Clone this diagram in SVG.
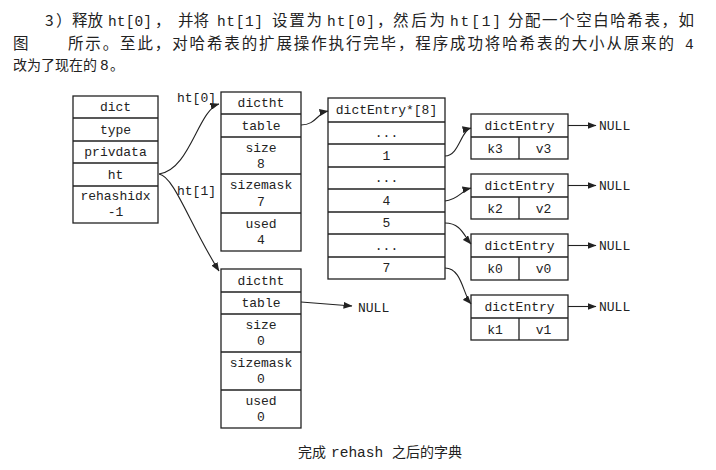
<svg xmlns="http://www.w3.org/2000/svg" width="716" height="470" viewBox="0 0 716 470">
<style>
.box{fill:#fff;stroke:#222;stroke-width:1.3}
.ln{stroke:#222;stroke-width:1.3;fill:none}
.m{font-family:"Liberation Mono","DejaVu Sans Mono",monospace;font-size:13px;fill:#222;text-anchor:middle}
.ml{font-family:"Liberation Mono","DejaVu Sans Mono",monospace;font-size:13px;fill:#222}
.c{font-family:"Noto Sans CJK SC","Noto Sans",sans-serif;font-size:15.5px;fill:#222}
.c3{font-family:"Noto Sans CJK SC","Noto Sans",sans-serif;font-size:14px;fill:#222}
.pm{font-family:"Liberation Mono","DejaVu Sans Mono",monospace;font-size:14.5px;fill:#222}
.con{stroke:#222;stroke-width:1.1;fill:none;marker-end:url(#ah)}
</style>
<defs>
<marker id="ah" markerWidth="9" markerHeight="7" refX="8.5" refY="3.5" orient="auto" markerUnits="userSpaceOnUse">
<path d="M0,0 L9,3.5 L0,7 Z" fill="#222"/>
</marker>
</defs>
<rect width="716" height="470" fill="#fff"/>
<g id="paragraph">
<text class="c" x="45" y="26">3</text>
<text class="c" x="56" y="26">）</text>
<text class="c" x="72" y="26">释放</text>
<text class="pm" x="108" y="26" textLength="44">ht[0]</text>
<text class="c" x="155" y="26">，</text>
<text class="c" x="178" y="26">并将</text>
<text class="pm" x="217" y="26" textLength="46">ht[1]</text>
<text class="c" x="272" y="26" textLength="50">设置为</text>
<text class="pm" x="327" y="26" textLength="48">ht[0]</text>
<text class="c" x="377" y="26">，</text>
<text class="c" x="393" y="26" textLength="52">然后为</text>
<text class="pm" x="450" y="26" textLength="51">ht[1]</text>
<text class="c" x="508" y="26" textLength="186">分配一个空白哈希表，如</text>
<text class="c" x="13" y="49">图</text>
<text class="c" x="68" y="49" textLength="606">所示。至此，对哈希表的扩展操作执行完毕，程序成功将哈希表的大小从原来的</text>
<text class="pm" x="685" y="49">4</text>
<text class="c3" x="13" y="70">改为了现在的</text>
<text class="pm" x="100" y="70">8</text>
<text class="c3" x="110" y="70">。</text>
</g>
<g id="dict">
<rect class="box" x="73" y="96" width="85" height="127"/>
<path class="ln" d="M73,118H158M73,141H158M73,163H158M73,186H158"/>
<text class="m" x="115.5" y="111">dict</text>
<text class="m" x="115.5" y="134">type</text>
<text class="m" x="115.5" y="156">privdata</text>
<text class="m" x="115.5" y="179">ht</text>
<text class="m" x="115.5" y="200">rehashidx</text>
<text class="m" x="115.5" y="216">-1</text>
</g>
<g id="dictht0">
<rect class="box" x="221" y="92" width="80" height="159"/>
<path class="ln" d="M221,114H301M221,137H301M221,174H301M221,213H301"/>
<text class="m" x="261" y="107">dictht</text>
<text class="m" x="261" y="130">table</text>
<text class="m" x="261" y="152">size</text>
<text class="m" x="261" y="168">8</text>
<text class="m" x="261" y="189">sizemask</text>
<text class="m" x="261" y="206">7</text>
<text class="m" x="261" y="228">used</text>
<text class="m" x="261" y="244">4</text>
</g>
<g id="dictht1">
<rect class="box" x="221" y="269" width="80" height="159"/>
<path class="ln" d="M221,292H301M221,314H301M221,352H301M221,390H301"/>
<text class="m" x="261" y="285">dictht</text>
<text class="m" x="261" y="307">table</text>
<text class="m" x="261" y="329">size</text>
<text class="m" x="261" y="345">0</text>
<text class="m" x="261" y="367">sizemask</text>
<text class="m" x="261" y="383">0</text>
<text class="m" x="261" y="405">used</text>
<text class="m" x="261" y="421">0</text>
</g>
<g id="table">
<rect class="box" x="328" y="98" width="117" height="181"/>
<path class="ln" d="M328,122H445M328,144H445M328,167H445M328,189H445M328,212H445M328,234H445M328,257H445"/>
<text class="m" x="386.5" y="114">dictEntry*[8]</text>
<text class="m" x="386.5" y="137">...</text>
<text class="m" x="386.5" y="160">1</text>
<text class="m" x="386.5" y="182">...</text>
<text class="m" x="386.5" y="205">4</text>
<text class="m" x="386.5" y="227">5</text>
<text class="m" x="386.5" y="250">...</text>
<text class="m" x="386.5" y="272">7</text>
</g>
<g id="entry3">
<rect class="box" x="471" y="114" width="97" height="45"/>
<path class="ln" d="M471,137H568M519,137V159"/>
<text class="m" x="519.5" y="130">dictEntry</text>
<text class="m" x="495" y="153">k3</text>
<text class="m" x="543.5" y="153">v3</text>
</g>
<g id="entry2">
<rect class="box" x="471" y="174" width="97" height="45"/>
<path class="ln" d="M471,197H568M519,197V219"/>
<text class="m" x="519.5" y="190">dictEntry</text>
<text class="m" x="495" y="213">k2</text>
<text class="m" x="543.5" y="213">v2</text>
</g>
<g id="entry0">
<rect class="box" x="471" y="234" width="97" height="46"/>
<path class="ln" d="M471,257H568M519,257V280"/>
<text class="m" x="519.5" y="250">dictEntry</text>
<text class="m" x="495" y="273">k0</text>
<text class="m" x="543.5" y="273">v0</text>
</g>
<g id="entry1">
<rect class="box" x="471" y="295" width="97" height="45"/>
<path class="ln" d="M471,318H568M519,318V340"/>
<text class="m" x="519.5" y="311">dictEntry</text>
<text class="m" x="495" y="334">k1</text>
<text class="m" x="543.5" y="334">v1</text>
</g>
<g id="nulls">
<text class="ml" x="599" y="130">NULL</text>
<text class="ml" x="599" y="190">NULL</text>
<text class="ml" x="599" y="250">NULL</text>
<text class="ml" x="599" y="311">NULL</text>
<text class="ml" x="358" y="312">NULL</text>
</g>
<g id="connectors">
<path class="con" d="M159,174 C190,170 198,110 219,104"/>
<path class="con" d="M159,174 C174,176 190,225 219,271"/>
<text class="ml" x="177" y="102">ht[0]</text>
<text class="ml" x="177" y="195">ht[1]</text>
<path class="con" d="M301,125 C316,125 317,113 328,111"/>
<path class="con" d="M301,302 L352,306"/>
<path class="con" d="M445,156 C459,156 461,130 471,128"/>
<path class="con" d="M445,201 C458,200 462,190 471,188"/>
<path class="con" d="M445,223 C461,223 464,236 471,244"/>
<path class="con" d="M445,268 C462,268 463,295 471,304"/>
<path class="con" d="M568,125.5H596"/>
<path class="con" d="M568,185.5H596"/>
<path class="con" d="M568,245.5H596"/>
<path class="con" d="M568,306.5H596"/>
</g>
<g id="caption">
<text class="c3" x="298" y="457">完成</text>
<text class="pm" x="331" y="457">rehash</text>
<text class="c3" x="392" y="457">之后的字典</text>
</g>
</svg>
